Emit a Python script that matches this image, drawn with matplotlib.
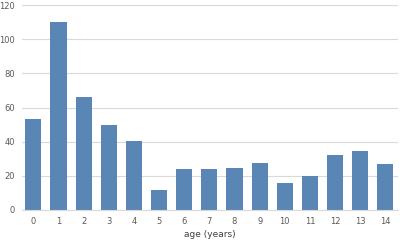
import matplotlib.pyplot as plt

# ages and counts
ages = list(range(15))
counts = [53, 110, 66, 50, 40.5, 11.7, 23.8, 23.8, 24.8, 27.5, 15.6, 20.1, 32, 34.7, 27.1]

fig = plt.figure(figsize=(4, 2.43), dpi=100)
ax = fig.add_axes([0.055, 0.136, 0.94, 0.843])

ax.bar(ages, counts, width=0.64, color='#5a86b5', zorder=2)

ax.set_ylim(0, 120)
ax.set_xlim(-0.45, 14.5)
ax.set_yticks(range(0, 121, 20))
ax.set_xticks(ages)
ax.grid(axis='y', color='#d9d9d9', linewidth=0.8, zorder=0)

for side in ['top', 'right', 'left']:
    ax.spines[side].set_visible(False)
ax.spines['bottom'].set_color('#d9d9d9')
ax.tick_params(length=0, labelsize=6, colors='#595959', pad=5)

ax.set_xlabel('age (years)', fontsize=6.5, color='#404040', labelpad=3)

fig.savefig('out.png', dpi=100)
